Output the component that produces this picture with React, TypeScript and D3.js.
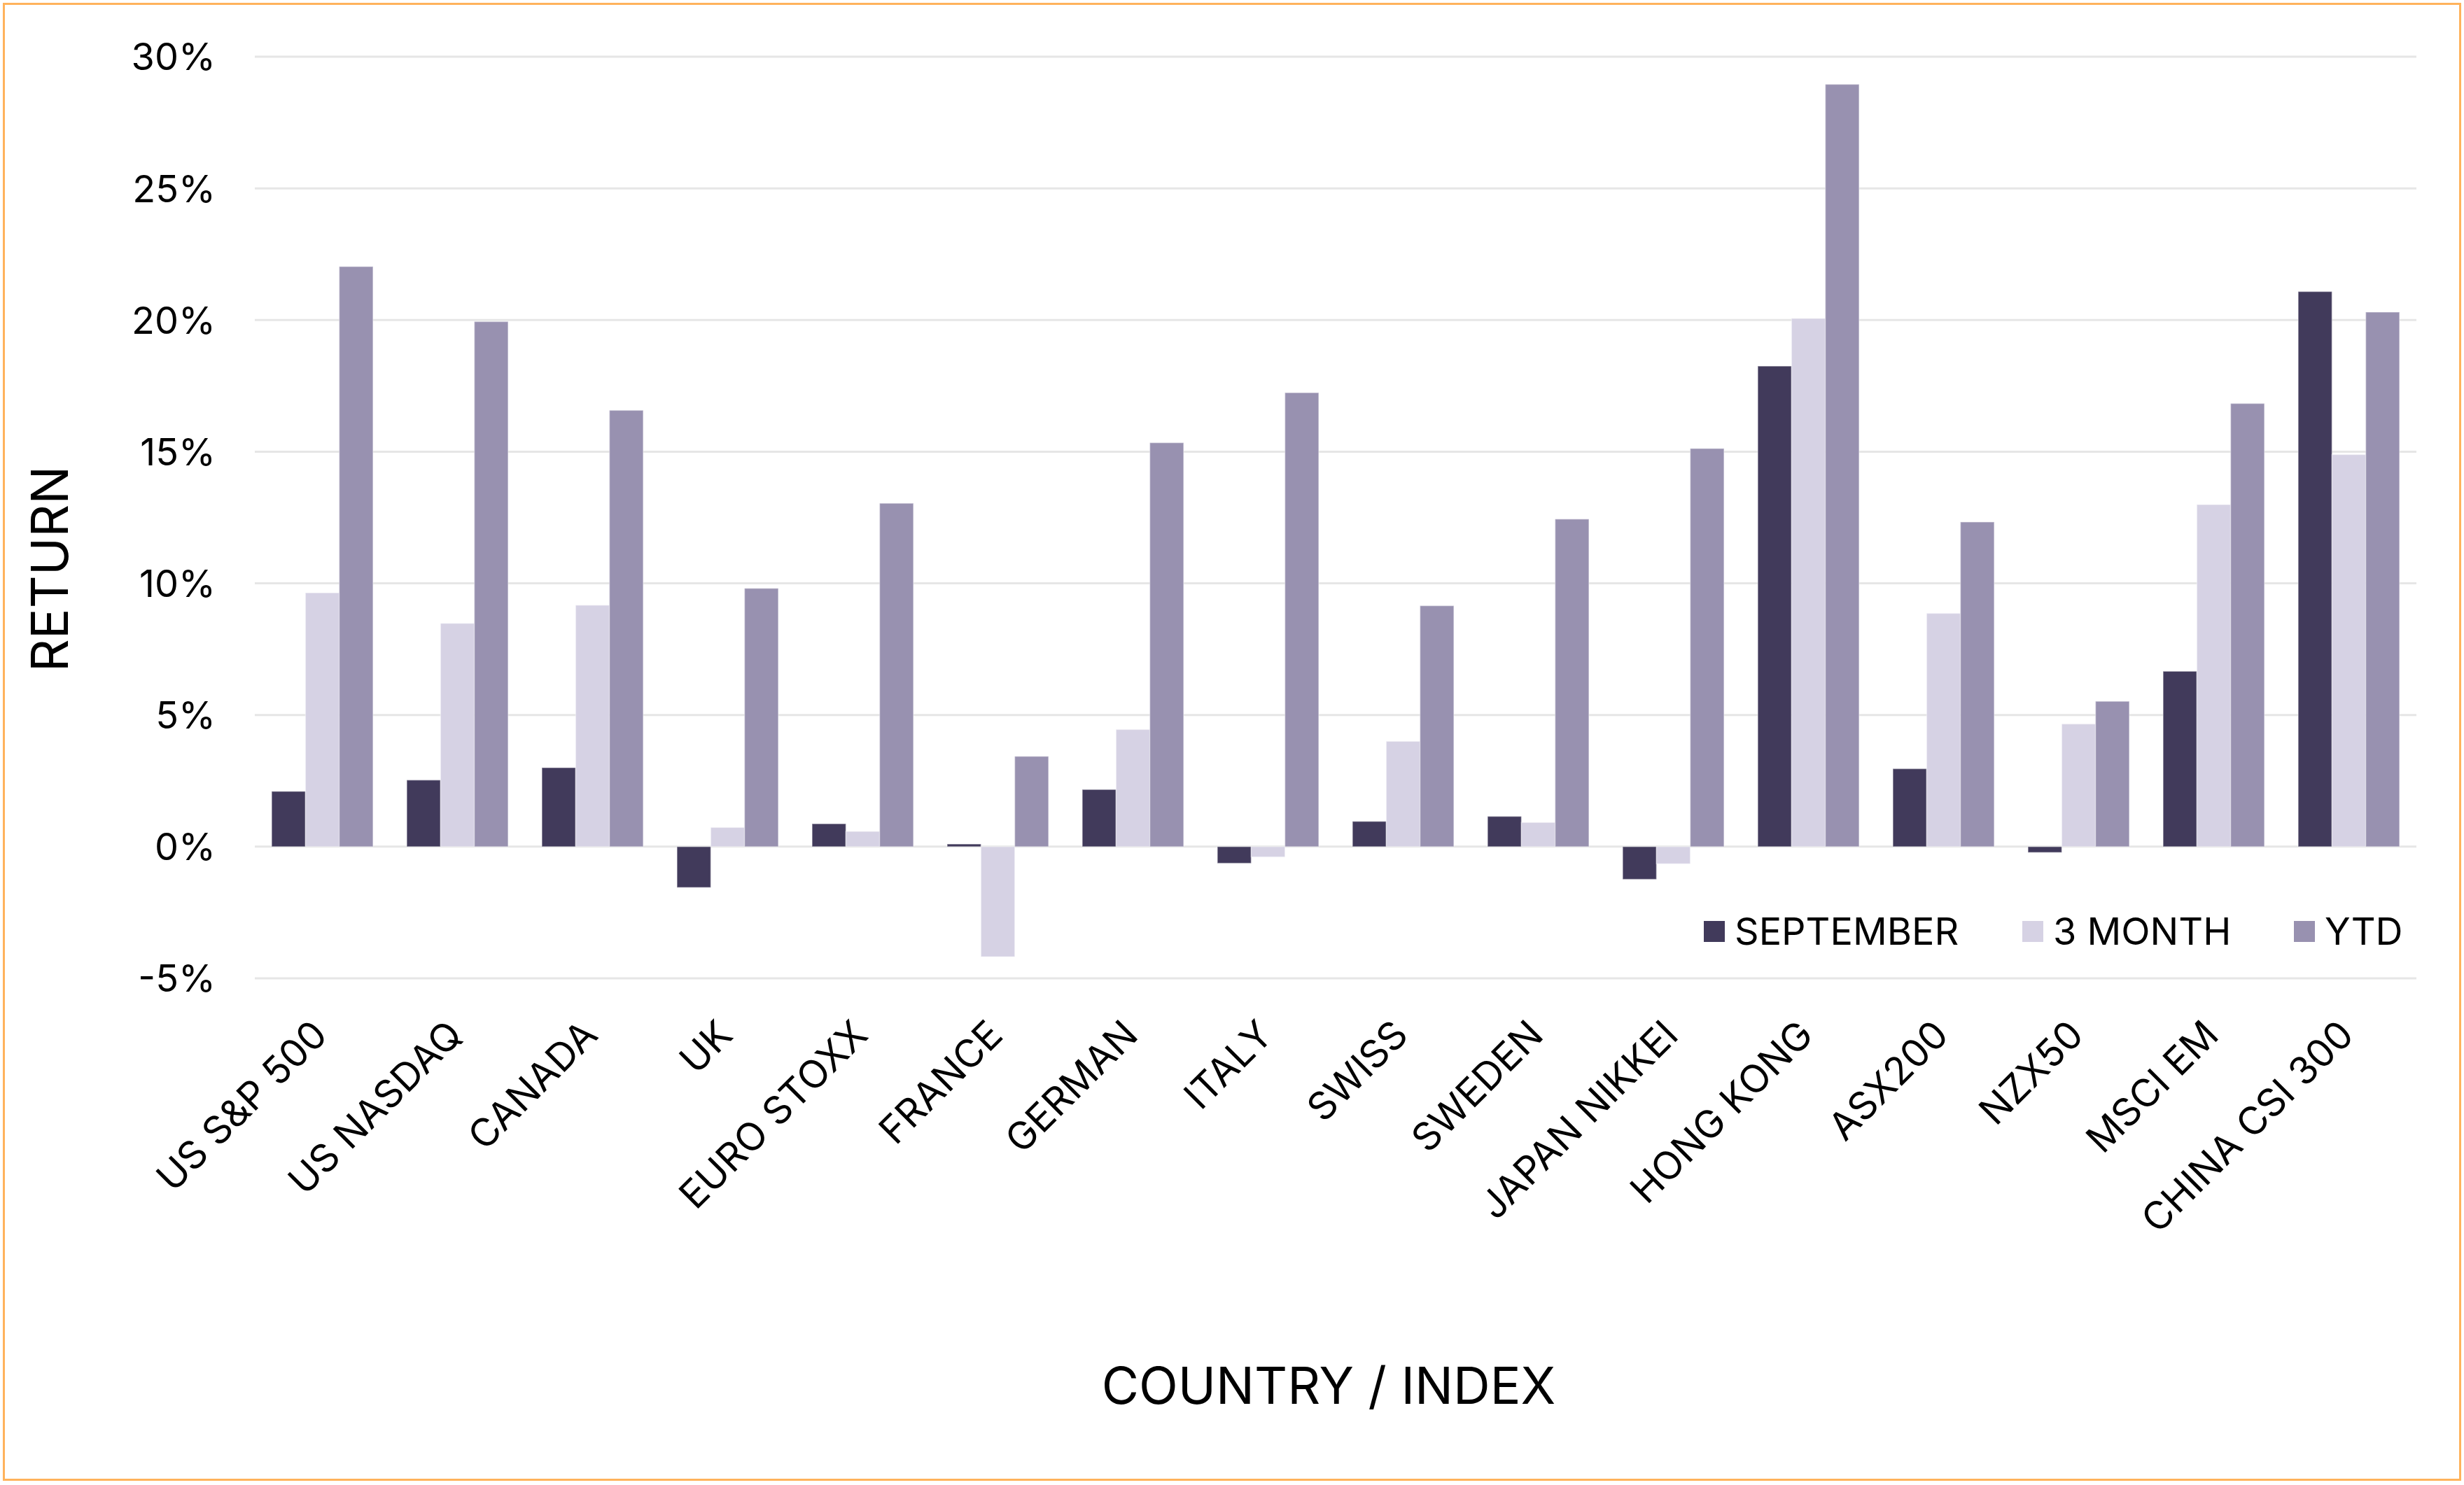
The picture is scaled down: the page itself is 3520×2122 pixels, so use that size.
import React from "react";
import * as d3 from "d3";

const categories = [
  "US S&P 500", "US NASDAQ", "CANADA", "UK", "EURO STOXX", "FRANCE", "GERMAN", "ITALY",
  "SWISS", "SWEDEN", "JAPAN NIKKEI", "HONG KONG", "ASX200", "NZX50", "MSCI EM", "CHINA CSI 300",
];
const september = [2.1, 2.53, 3.0, -1.55, 0.87, 0.1, 2.17, -0.63, 0.96, 1.15, -1.24, 18.25, 2.96, -0.22, 6.66, 21.08];
const threeMonth = [9.64, 8.48, 9.17, 0.73, 0.58, -4.18, 4.45, -0.39, 4.0, 0.92, -0.65, 20.06, 8.86, 4.66, 12.99, 14.89];
const ytd = [22.03, 19.94, 16.57, 9.81, 13.04, 3.43, 15.34, 17.24, 9.15, 12.44, 15.12, 28.95, 12.33, 5.52, 16.83, 20.3];
const seriesNames = ["SEPTEMBER", "3 MONTH", "YTD"];
const seriesColors = ["#413A5B", "#D6D2E4", "#9891B0"];
const yTicks = [-5, 0, 5, 10, 15, 20, 25, 30];

const W = 3520;
const H = 2122;
const FONT = "Inter, 'Noto Sans', sans-serif";

export default function App() {
  const x = d3.scaleBand<string>().domain(categories).range([364, 3452]).paddingInner(0.25).paddingOuter(0.125);
  const x1 = d3.scaleBand<string>().domain(seriesNames).range([0, x.bandwidth()]).padding(0);
  const y = d3.scaleLinear().domain([-5, 30]).range([1398, 81]);
  const series = [september, threeMonth, ytd];
  const legendX = [2434, 2889, 3277];

  return (
    <svg width={W} height={H} style={{ position: "absolute", left: 0, top: 0, background: "#fff" }} fontFamily={FONT}>
      <rect x={0} y={0} width={W} height={H} fill="#fff" />
      <rect x={5.5} y={5.5} width={W - 11} height={H - 13} fill="none" stroke="#FFB35C" strokeWidth={3} />
      {yTicks.map((t) => (
        <g key={t}>
          <line x1={364} x2={3452} y1={y(t)} y2={y(t)} stroke="#E6E6E6" strokeWidth={3} />
          <text x={308} y={y(t)} dy="0.36em" textAnchor="end" fontSize={54} fill="#000">
            {t}%
          </text>
        </g>
      ))}
      {series.map((vals, si) =>
        vals.map((v, i) => {
          const bx = (x(categories[i]) as number) + (x1(seriesNames[si]) as number);
          const y0 = y(0);
          const yv = y(v);
          return (
            <rect
              key={si + "-" + i}
              x={bx}
              y={Math.min(y0, yv)}
              width={x1.bandwidth()}
              height={Math.abs(yv - y0)}
              fill={seriesColors[si]}
              stroke="rgba(255,255,255,0.35)"
              strokeWidth={1.5}
            />
          );
        })
      )}
      {categories.map((c) => {
        const cx = (x(c) as number) + x.bandwidth() / 2 + 10;
        const cy = 1482;
        return (
          <text key={c} transform={`translate(${cx},${cy}) rotate(-45)`} textAnchor="end" fontSize={55} fill="#000">
            {c}
          </text>
        );
      })}
      {seriesNames.map((s, i) => (
        <g key={s}>
          <rect x={legendX[i]} y={1316} width={30} height={30} fill={seriesColors[i]} />
          <text x={legendX[i] + 44} y={1331} dy="0.36em" fontSize={54} fill="#000">
            {s}
          </text>
        </g>
      ))}
      <text transform={`translate(${97},${813}) rotate(-90)`} textAnchor="middle" fontSize={73} fill="#000">
        RETURN
      </text>
      <text x={1898} y={2006} textAnchor="middle" fontSize={73} fill="#000">
        COUNTRY / INDEX
      </text>
    </svg>
  );
}
